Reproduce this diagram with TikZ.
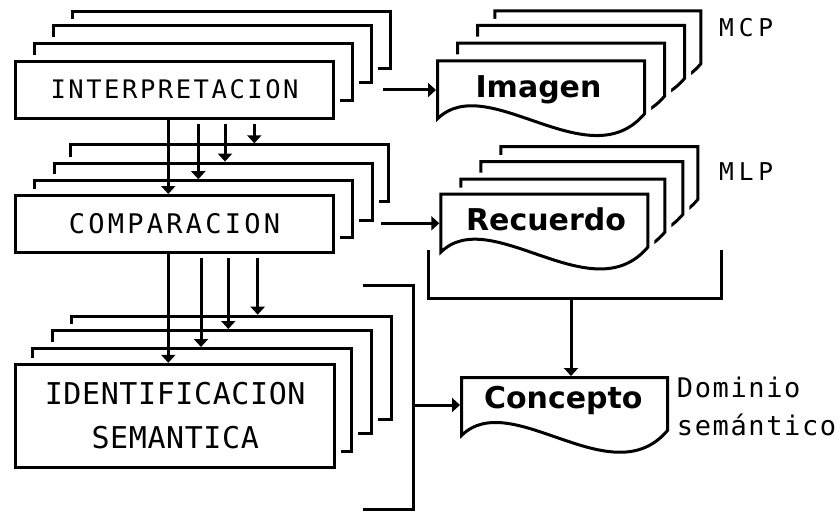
\documentclass[tikz,border=0pt]{standalone}
\usepackage{fontspec}
\usetikzlibrary{arrows.meta}
% label fonts
\newfontfamily\panelfontA[LetterSpace=10]{DejaVu Sans Mono}
\newfontfamily\panelfontB[LetterSpace=12]{DejaVu Sans Mono}
\newfontfamily\panelfontC[LetterSpace=2]{DejaVu Sans Mono}
\newfontfamily\tagfont[LetterSpace=20]{DejaVu Sans Mono}
\newfontfamily\notefont[LetterSpace=6]{DejaVu Sans Mono}
\newfontfamily\sheetfont{DejaVu Sans}

\tikzset{
  panel/.style={draw, fill=white, line width=3pt, minimum width=318pt,
    minimum height=57pt, inner sep=0pt,
    preaction={draw=white, line width=13pt}},
  tallpanel/.style={panel, minimum width=319.5pt, minimum height=103pt},
  sheetline/.style={draw, fill=white, line width=3pt,
    preaction={draw=white, line width=13pt}},
  pics/sheet/.style={code={
    \path[sheetline] (0,0) -- (#1,0) -- (#1,53)
      .. controls ({#1-56},119) and (50,9) .. (0,58) -- cycle;
    \coordinate (-nw) at (0,0);
  }},
  link/.style={draw, line width=3pt, -{Triangle[width=14pt,length=8pt]}},
  wire/.style={draw, line width=3pt},
  sheettext/.style={anchor=base, inner sep=0pt,
    font=\sheetfont\bfseries\fontsize{30}{36}\selectfont},
  tag/.style={anchor=base west, inner sep=0pt,
    font=\tagfont\fontsize{24.5}{30}\selectfont},
  note/.style={anchor=base west, inner sep=0pt,
    font=\notefont\fontsize{27}{32}\selectfont},
}

\begin{document}
\begin{tikzpicture}[x=1pt, y=-1pt]
\useasboundingbox (0,0) rectangle (839,511);

% ---- stage 1: interpretation ----
\node[panel] (interp3) at (231,40.3) {};
\node[panel] (interp2) at (212.3,54.3) {};
\node[panel] (interp1) at (193.3,71.7) {};
\node[panel, font=\panelfontA\fontsize{25.5}{30}\selectfont] (interp) at (174.6,89.7) {INTERPRETACION};

% ---- stage 2: comparison ----
\node[panel] (compar3) at (229.8,173.3) {};
\node[panel] (compar2) at (213.3,191.6) {};
\node[panel] (compar1) at (193.6,209.2) {};
\node[panel, font=\panelfontB\fontsize{27}{32}\selectfont] (compar) at (174.6,224) {COMPARACION};

% ---- stage 3: semantic identification ----
\node[tallpanel] (ident3) at (231.5,367.7) {};
\node[tallpanel] (ident2) at (211.8,382) {};
\node[tallpanel] (ident1) at (191.8,400) {};
\node[tallpanel, align=center, font=\panelfontC\fontsize{30}{44}\selectfont] (ident) at (175.2,415.8) {IDENTIFICACION\\SEMANTICA};

% ---- MCP stack ----
\pic (img3) at (494.8,10.8) {sheet=206};
\pic (img2) at (477.5,25.5) {sheet=207};
\pic (img1) at (457.5,43.2) {sheet=207};
\pic (img0) at (437.5,60.8) {sheet=207};
\node[sheettext] (imagen) at (538.5,98) {Imagen};
\node[tag] (mcp) at (719,37) {MCP};

% ---- MLP stack ----
\pic (rec3) at (500.8,146.5) {sheet=197};
\pic (rec2) at (480.8,161.5) {sheet=202};
\pic (rec1) at (460.8,179.2) {sheet=204};
\pic (rec0) at (440.8,194.2) {sheet=207};
\node[sheettext] (recuerdo) at (546,230) {Recuerdo};
\node[tag] (mlp) at (719,180) {MLP};

% ---- semantic domain ----
\pic (con0) at (461.5,377.5) {sheet=206};
\node[sheettext] (concepto) at (563.3,408) {Concepto};
\node[note] (dominio) at (676.7,397) {Dominio};
\node[note] (semantico) at (676.7,435) {semántico};

% ---- column positions and free ends ----
\coordinate (p1) at (168.3,0);
\coordinate (p2) at (198.3,0);
\coordinate (p3) at (225,0);
\coordinate (p4) at (254.3,0);
\coordinate (q2) at (201,0);
\coordinate (q3) at (228.3,0);
\coordinate (q4) at (257.7,0);
\coordinate (rowA) at (0,124.3);
\coordinate (rowB) at (0,258);

% interpretation -> comparison layers
\draw[link] (p1 |- interp.south) -- (p1 |- compar.north);
\draw[link] (p2 |- rowA) -- (p2 |- compar1.north);
\draw[link] (p3 |- rowA) -- (p3 |- compar2.north);
\draw[link] (p4 |- rowA) -- (p4 |- compar3.north);

% comparison -> identification layers
\draw[link] (p1 |- compar.south) -- (p1 |- ident.north);
\draw[link] (q2 |- rowB) -- (q2 |- ident1.north);
\draw[link] (q3 |- rowB) -- (q3 |- ident2.north);
\draw[link] (q4 |- rowB) -- (q4 |- ident3.north);

% outputs to memory stores
\coordinate (outA) at (383,90);
\coordinate (outB) at (381,223.3);
\draw[link] (outA) -- ([xshift=-1.5pt]outA -| img0-nw);
\draw[link] (outB) -- ([xshift=-1.5pt]outB -| rec0-nw);

% bracket gathering the identification stage
\coordinate (brT) at (363.3,285.7);
\coordinate (brB) at (363.3,509);
\coordinate (brX) at (413.3,405);
\path[wire] (brT) -- (brT -| brX) -- (brB -| brX) -- (brB);
\draw[link] (brX) -- ([xshift=-1.5pt]brX -| con0-nw);

% long-term memory tray and its link to the concept
\coordinate (trL) at (428,250);
\coordinate (trR) at (721,250);
\coordinate (trB) at (571,298);
\path[wire] (trL) -- (trL |- trB) -- (trR |- trB) -- (trR);
\draw[link] (trB) -- ([yshift=1.5pt]trB |- con0-nw);
\end{tikzpicture}
\end{document}
